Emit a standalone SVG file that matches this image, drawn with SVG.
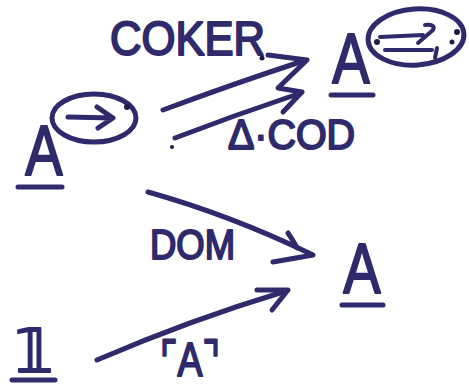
<svg xmlns="http://www.w3.org/2000/svg" width="469" height="389" viewBox="0 0 469 389">
<style>
.ink{fill:none;stroke:#2e2a6b;stroke-width:5;stroke-linecap:round;stroke-linejoin:round}
.thin{fill:none;stroke:#2e2a6b;stroke-width:4;stroke-linecap:round;stroke-linejoin:round}
.dot{fill:#1f1b4d}
.t{font-family:"Liberation Sans","DejaVu Sans",sans-serif;fill:#2e2a6b;stroke:#2e2a6b;stroke-width:2;stroke-linejoin:round}
</style>
<rect width="469" height="389" fill="#ffffff"/>
<g id="node-A-arrow">
<text class="t" transform="translate(44,175) scale(0.8,1)" font-size="70" text-anchor="middle">A</text>
<path class="ink" d="M18,187 L62,187"/>
<ellipse class="ink" cx="94" cy="118" rx="42" ry="24"/>
<path class="ink" d="M68,117 L113,118 M97,107 L113,118 L98,128"/>
<circle class="dot" cx="127" cy="107" r="3"/>
</g>
<g id="node-A-pair">
<text class="t" transform="translate(351,83) scale(0.8,1)" font-size="70" text-anchor="middle">A</text>
<path class="ink" d="M331,95 L373,95"/>
<ellipse class="ink" cx="416" cy="37" rx="48" ry="28" transform="rotate(-4 416 37)"/>
<path class="thin" d="M380,37 L423,35 M385,50 L432,50 M425,25 Q436,24 433,30 L418,43 M437,48 L435,58"/>
<circle class="dot" cx="377" cy="42" r="3"/>
<circle class="dot" cx="457" cy="32" r="3"/>
<circle class="dot" cx="452" cy="42" r="2.5"/>
</g>
<g id="node-A-bottom">
<text class="t" transform="translate(362,293) scale(0.8,1)" font-size="70" text-anchor="middle">A</text>
<path class="ink" d="M342,305 L383,305"/>
</g>
<g id="node-one">
<text class="t" x="34" y="372" font-size="60" text-anchor="middle" style="font-family:'DejaVu Sans',sans-serif">𝟙</text>
<path class="ink" d="M12,380 L55,380"/>
</g>
<g id="connectors">
<path class="ink" d="M163,110 Q230,85 300,62"/>
<path class="ink" d="M268,55 L307,60 L278,88 L302,92 L283,112"/>
<path class="ink" d="M175,138 Q235,115 295,95"/>
<circle class="dot" cx="172" cy="147" r="2"/>
<path class="ink" d="M148,192 Q230,215 311,254"/>
<path class="ink" d="M288,233 Q294,242 297,248 M273,262 L313,255"/>
<path class="ink" d="M97,360 Q190,320 283,292"/>
<path class="ink" d="M257,290 L288,290 L272,310"/>
</g>
<g id="labels">
<text class="t" x="110" y="55" font-size="48" textLength="155" lengthAdjust="spacingAndGlyphs">COKER</text>
<circle class="dot" cx="262" cy="58" r="2.5"/>
<text class="t" x="228" y="149" font-size="42" textLength="127" lengthAdjust="spacingAndGlyphs">Δ·COD</text>
<text class="t" x="150" y="259" font-size="42" textLength="85" lengthAdjust="spacingAndGlyphs">DOM</text>
<text class="t" x="160" y="376" font-size="48" textLength="60" lengthAdjust="spacingAndGlyphs">⌜A⌝</text>
</g>
</svg>
